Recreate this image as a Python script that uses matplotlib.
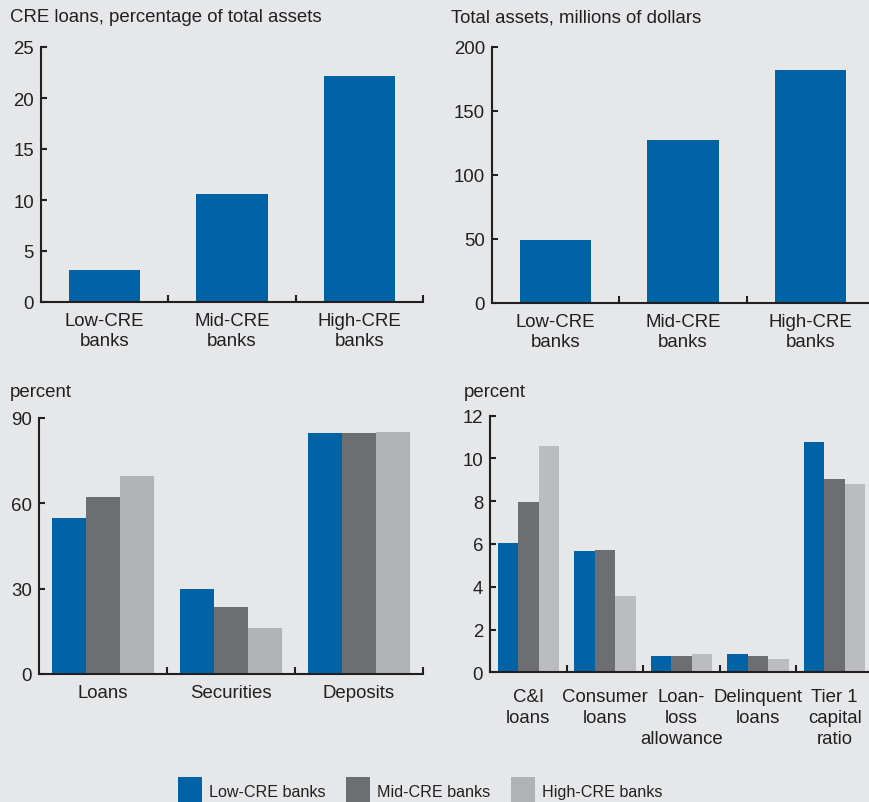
import matplotlib
matplotlib.use('Agg')
import matplotlib.pyplot as plt
import numpy as np

plt.rcParams['font.family'] = ['Liberation Sans', 'DejaVu Sans']

BG = '#E6E7E9'
INK = '#231F20'
colors = ['#0063A6', '#6D6E71', '#B1B2B5']
colors_ratio = ['#0063A6', '#6D6E71', '#BBBCBF']
series = ['Low-CRE banks', 'Mid-CRE banks', 'High-CRE banks']

bank_groups = ['Low-CRE\nbanks', 'Mid-CRE\nbanks', 'High-CRE\nbanks']
cre_share = [3.1, 10.6, 22.2]
total_assets = [49, 127, 182]

balance_cats = ['Loans', 'Securities', 'Deposits']
balance_low = [55.0, 30.0, 84.7]
balance_mid = [62.3, 23.6, 84.7]
balance_high = [69.6, 16.2, 85.1]

ratio_cats = ['C&I\nloans', 'Consumer\nloans', 'Loan-\nloss\nallowance',
              'Delinquent\nloans', 'Tier 1\ncapital\nratio']
ratio_low = [6.05, 5.67, 0.76, 0.85, 10.77]
ratio_mid = [7.96, 5.72, 0.76, 0.76, 9.04]
ratio_high = [10.58, 3.57, 0.85, 0.62, 8.80]

W, H = 869, 803
FS = 13.4
LFS = 11.6
fig = plt.figure(figsize=(W / 100, H / 100), dpi=100, facecolor=BG)


def px_axes(l, r, b, t):
    return fig.add_axes([l / W, 1 - b / H, (r - l) / W, (b - t) / H])


def style(ax, cats, ymax, yticks, show_labels=True):
    n = len(cats)
    ax.set_facecolor(BG)
    ax.set_xlim(-0.5, n - 0.5)
    ax.set_ylim(0, ymax)
    for s in ['top', 'right']:
        ax.spines[s].set_visible(False)
    for s in ['left', 'bottom']:
        ax.spines[s].set_color(INK)
        ax.spines[s].set_linewidth(1.5)
    ax.set_yticks(yticks)
    ax.set_yticklabels([str(v) for v in yticks])
    ax.tick_params(axis='y', direction='in', length=4, width=1.5, color=INK,
                   labelsize=FS, labelcolor=INK, pad=5)
    ax.set_xticks(np.arange(n))
    if show_labels:
        ax.set_xticklabels(cats, linespacing=1.25)
    else:
        ax.set_xticklabels([''] * n)
    ax.tick_params(axis='x', which='major', length=0, labelsize=FS,
                   labelcolor=INK, pad=7)
    ax.set_xticks(np.arange(n) + 0.5, minor=True)
    ax.tick_params(axis='x', which='minor', direction='in', length=5,
                   width=1.5, color=INK)


# Top-left
ax1 = px_axes(41, 423, 303, 48)
x = np.arange(len(bank_groups))
ax1.bar(x, cre_share, width=0.56, color=colors[0])
style(ax1, bank_groups, 25, [0, 5, 10, 15, 20, 25])

# Top-right
ax2 = px_axes(492, 874, 304, 47.7)
ax2.bar(x, total_assets, width=0.56, color=colors[0])
style(ax2, bank_groups, 200, [0, 50, 100, 150, 200])

# Bottom-left
ax3 = px_axes(39, 423, 675, 419)
xb = np.arange(len(balance_cats))
bw = 0.8 / 3
handles = []
for i, vals in enumerate([balance_low, balance_mid, balance_high]):
    h = ax3.bar(xb + (i - 1) * bw, vals, width=bw, color=colors[i], label=series[i])
    handles.append(h)
style(ax3, balance_cats, 90, [0, 30, 60, 90])

# Bottom-right
ax4 = px_axes(490, 873, 673.3, 416.7)
xr = np.arange(len(ratio_cats))
for i, vals in enumerate([ratio_low, ratio_mid, ratio_high]):
    ax4.bar(xr + (i - 1) * bw, vals, width=bw, color=colors_ratio[i])
style(ax4, ratio_cats, 12, [0, 2, 4, 6, 8, 10, 12], show_labels=False)
# category labels, one text per line, placed on baselines below the axis
line_offsets_pt = [20.4, 36.0, 51.2]
for i, cat in enumerate(ratio_cats):
    for k, line in enumerate(cat.split('\n')):
        ax4.annotate(line, xy=(i, 0), xycoords=('data', 'axes fraction'),
                     xytext=(0, -line_offsets_pt[k]), textcoords='offset points',
                     ha='center', va='baseline', fontsize=FS, color=INK,
                     annotation_clip=False)

# Panel titles
fig.text(10 / W, 1 - 18 / H, 'CRE loans, percentage of total assets', fontsize=FS,
         color=INK, va='center', ha='left')
fig.text(451 / W, 1 - 18 / H, 'Total assets, millions of dollars', fontsize=FS,
         color=INK, va='center', ha='left')
fig.text(10 / W, 1 - 393 / H, 'percent', fontsize=FS, color=INK, va='center', ha='left')
fig.text(464 / W, 1 - 393 / H, 'percent', fontsize=FS, color=INK, va='center', ha='left')

# Legend
fig.legend(handles, series, loc='upper left', bbox_to_anchor=(178 / W, 1 - 778 / H),
           ncol=3, frameon=False, borderpad=0, borderaxespad=0, handlelength=1.5,
           handleheight=2.3, handletextpad=0.42, columnspacing=1.27, fontsize=LFS,
           labelcolor=INK)

fig.savefig('out.png', dpi=100, facecolor=BG)
